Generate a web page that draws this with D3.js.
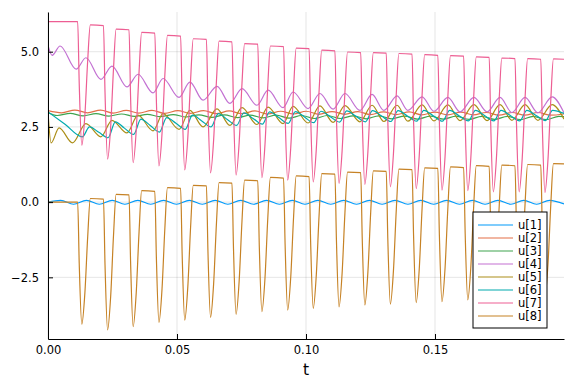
<!DOCTYPE html>
<html>
<head>
<meta charset="utf-8">
<script src="https://cdn.jsdelivr.net/npm/d3@7"></script>
<style>
  body { margin: 0; background: #fff; }
  text { font-family: "DejaVu Sans", sans-serif; fill: #000; }
</style>
</head>
<body>
<svg width="576" height="384"></svg>
<script>
// ---- data ----
var xTicks = [0, 0.05, 0.10, 0.15];
var yTicks = [-2.5, 0, 2.5, 5];
var seriesNames = ["u[1]", "u[2]", "u[3]", "u[4]", "u[5]", "u[6]", "u[7]", "u[8]"];
var colors = ["#009AFA", "#E36F47", "#3EA44E", "#C371D2", "#AC8E18", "#00AAAE", "#ED5E93", "#C68225"];

// u[1] small wiggle around zero  [t, value]
var u1 = [[0,0.00],[0.0049,0.06],[0.0099,-0.07],[0.0149,0.06],[0.0199,-0.07],[0.0249,0.06],[0.0298,-0.07],
  [0.0348,0.06],[0.0398,-0.07],[0.0448,0.06],[0.0498,-0.07],[0.0548,0.06],[0.0598,-0.07],[0.0648,0.06],
  [0.0697,-0.07],[0.0747,0.06],[0.0797,-0.07],[0.0847,0.06],[0.0897,-0.07],[0.0947,0.06],[0.0996,-0.07],
  [0.1046,0.06],[0.1096,-0.07],[0.1146,0.06],[0.1196,-0.07],[0.1246,0.06],[0.1295,-0.07],[0.1345,0.06],
  [0.1395,-0.07],[0.1445,0.06],[0.1495,-0.07],[0.1545,0.06],[0.1595,-0.07],[0.1645,0.06],[0.1694,-0.07],
  [0.1744,0.06],[0.1794,-0.07],[0.1844,0.06],[0.1894,-0.07],[0.1944,0.06],[0.2000,-0.06]];

var u2 = [[0,3.04],[0.0053,2.97],[0.0104,3.06],[0.0153,2.97],[0.0204,3.06],[0.0253,2.96],[0.0303,3.05],
  [0.0352,2.96],[0.0403,3.05],[0.0452,2.95],[0.0503,3.04],[0.0552,2.95],[0.0603,3.04],[0.0652,2.94],
  [0.0702,3.03],[0.0751,2.94],[0.0802,3.03],[0.0851,2.93],[0.0902,3.02],[0.0951,2.93],[0.1001,3.02],
  [0.1050,2.92],[0.1101,3.01],[0.1150,2.92],[0.1201,3.01],[0.1250,2.91],[0.1300,3.00],[0.1349,2.91],
  [0.1400,3.00],[0.1449,2.90],[0.1500,2.99],[0.1549,2.90],[0.1600,2.99],[0.1649,2.90],[0.1699,2.98],
  [0.1748,2.89],[0.1799,2.98],[0.1848,2.89],[0.1899,2.98],[0.1948,2.89],[0.2000,2.93]];

var u3 = [[0,2.98],[0.0036,2.88],[0.0086,2.95],[0.0136,2.87],[0.0186,2.94],[0.0236,2.86],[0.0285,2.93],
  [0.0335,2.85],[0.0385,2.92],[0.0435,2.84],[0.0485,2.91],[0.0535,2.83],[0.0585,2.90],[0.0635,2.82],
  [0.0684,2.90],[0.0734,2.81],[0.0784,2.89],[0.0834,2.80],[0.0884,2.89],[0.0934,2.79],[0.0983,2.88],
  [0.1033,2.78],[0.1083,2.88],[0.1133,2.78],[0.1183,2.87],[0.1233,2.77],[0.1282,2.87],[0.1332,2.77],
  [0.1382,2.86],[0.1432,2.76],[0.1482,2.86],[0.1532,2.76],[0.1582,2.86],[0.1632,2.75],[0.1681,2.85],
  [0.1731,2.75],[0.1781,2.85],[0.1831,2.74],[0.1881,2.85],[0.1931,2.74],[0.1980,2.85],[0.2000,2.84]];

var u4 = [[0,5.21],[0.0016,4.88],[0.0047,5.19],[0.0109,4.42],[0.0147,4.80],[0.0205,4.08],[0.0248,4.52],
  [0.0306,3.83],[0.0349,4.25],[0.0407,3.63],[0.0446,4.11],[0.0508,3.48],[0.0550,3.99],[0.0601,3.39],
  [0.0655,3.85],[0.0705,3.28],[0.0752,3.77],[0.0810,3.22],[0.0853,3.72],[0.0911,3.14],[0.0950,3.66],
  [0.1008,3.11],[0.1054,3.61],[0.1105,3.09],[0.1151,3.61],[0.1209,3.05],[0.1256,3.58],[0.1302,3.05],
  [0.1353,3.53],[0.1395,3.05],[0.1450,3.50],[0.1496,3.02],[0.1550,3.48],[0.1597,3.00],[0.1651,3.48],
  [0.1702,3.00],[0.1752,3.48],[0.1798,2.98],[0.1849,3.48],[0.1899,2.97],[0.1954,3.50],[0.2000,2.97]];

var u5 = [[0,3.00],[0.0012,1.97],[0.0043,2.47],[0.0095,1.97],[0.0147,2.61],[0.0205,2.17],[0.0248,2.72],
  [0.0306,2.30],[0.0349,2.89],[0.0407,2.37],[0.0446,2.94],[0.0508,2.42],[0.0550,3.05],[0.0601,2.50],
  [0.0655,3.10],[0.0705,2.55],[0.0752,3.14],[0.0810,2.58],[0.0853,3.16],[0.0911,2.61],[0.0950,3.18],
  [0.1008,2.63],[0.1054,3.20],[0.1105,2.65],[0.1151,3.21],[0.1209,2.67],[0.1256,3.22],[0.1302,2.68],
  [0.1353,3.22],[0.1395,2.69],[0.1450,3.23],[0.1496,2.70],[0.1550,3.23],[0.1597,2.71],[0.1651,3.24],
  [0.1702,2.71],[0.1752,3.24],[0.1798,2.72],[0.1849,3.24],[0.1899,2.72],[0.1954,3.24],[0.2000,2.76]];

var u6 = [[0,3.00],[0.0066,2.59],[0.0133,2.17],
  [0.0161,2.50],[0.0197,2.32],[0.0233,2.14],[0.0261,2.67],[0.0296,2.46],[0.0332,2.25],
  [0.0360,2.76],[0.0396,2.55],[0.0432,2.33],[0.0460,2.81],[0.0496,2.62],[0.0532,2.42],
  [0.0560,2.89],[0.0596,2.70],[0.0632,2.50],[0.0660,2.94],[0.0695,2.75],[0.0731,2.55],
  [0.0759,2.97],[0.0795,2.78],[0.0831,2.59],[0.0859,3.00],[0.0895,2.81],[0.0931,2.62],
  [0.0959,3.01],[0.0994,2.83],[0.1030,2.64],[0.1058,3.02],[0.1094,2.84],[0.1130,2.66],
  [0.1158,3.03],[0.1194,2.85],[0.1230,2.67],[0.1258,3.04],[0.1293,2.86],[0.1329,2.68],
  [0.1357,3.04],[0.1393,2.86],[0.1429,2.69],[0.1457,3.05],[0.1493,2.87],[0.1529,2.69],
  [0.1557,3.05],[0.1593,2.87],[0.1629,2.70],[0.1657,3.05],[0.1692,2.88],[0.1728,2.70],
  [0.1756,3.05],[0.1792,2.88],[0.1828,2.70],[0.1856,3.05],[0.1892,2.88],[0.1928,2.71],
  [0.1956,3.05],[0.2000,2.95]];

// u[7] and u[8] pulse in step, so they share one time list
var tPulse = [0,
  0.0115,0.0121,0.0131,0.0143,0.0154,0.0164, 0.0215,0.0221,0.0231,0.0243,0.0254,0.0264,
  0.0314,0.0320,0.0330,0.0342,0.0353,0.0363, 0.0414,0.0420,0.0430,0.0442,0.0453,0.0463,
  0.0514,0.0520,0.0530,0.0542,0.0553,0.0563, 0.0614,0.0620,0.0630,0.0642,0.0653,0.0663,
  0.0713,0.0719,0.0729,0.0741,0.0752,0.0762, 0.0813,0.0819,0.0829,0.0841,0.0852,0.0862,
  0.0913,0.0919,0.0929,0.0941,0.0952,0.0962, 0.1012,0.1018,0.1028,0.1040,0.1051,0.1061,
  0.1112,0.1118,0.1128,0.1140,0.1151,0.1161, 0.1212,0.1218,0.1228,0.1240,0.1251,0.1261,
  0.1311,0.1317,0.1327,0.1339,0.1350,0.1360, 0.1411,0.1417,0.1427,0.1439,0.1450,0.1460,
  0.1511,0.1517,0.1527,0.1539,0.1550,0.1560, 0.1611,0.1617,0.1627,0.1639,0.1650,0.1660,
  0.1710,0.1716,0.1726,0.1738,0.1749,0.1759, 0.1810,0.1816,0.1826,0.1838,0.1849,0.1859,
  0.1910,0.1916,0.1926,0.1938,0.1949,0.1959,
  0.2000];

var u7 = [6.00,
  6.00,3.95,1.89,2.90,4.73,5.89, 5.87,3.65,1.43,2.52,4.45,5.75,
  5.73,3.52,1.31,2.39,4.34,5.64, 5.62,3.41,1.20,2.29,4.24,5.54,
  5.52,3.30,1.07,2.16,4.12,5.43, 5.41,3.19,0.97,2.07,4.04,5.35,
  5.33,3.12,0.90,1.99,3.96,5.27, 5.25,3.03,0.81,1.91,3.88,5.19,
  5.17,2.95,0.73,1.83,3.80,5.12, 5.10,2.89,0.67,1.77,3.74,5.05,
  5.03,2.83,0.62,1.71,3.68,4.99, 4.97,2.78,0.59,1.69,3.66,4.97,
  4.95,2.73,0.51,1.62,3.61,4.94, 4.92,2.69,0.45,1.56,3.57,4.90,
  4.88,2.64,0.40,1.52,3.53,4.87, 4.85,2.62,0.38,1.49,3.50,4.83,
  4.81,2.58,0.34,1.45,3.46,4.79, 4.77,2.56,0.34,1.45,3.44,4.77,
  4.75,2.54,0.32,1.43,3.43,4.76,
  4.75];

var u8 = [0.00,
  0.00,-2.03,-4.06,-3.01,-1.13,0.12, 0.10,-2.08,-4.25,-3.12,-1.09,0.26,
  0.24,-1.95,-4.14,-3.01,-0.98,0.38, 0.36,-1.82,-4.00,-2.88,-0.86,0.48,
  0.46,-1.73,-3.92,-2.80,-0.78,0.56, 0.54,-1.65,-3.83,-2.71,-0.69,0.65,
  0.63,-1.55,-3.73,-2.61,-0.61,0.73, 0.71,-1.47,-3.64,-2.53,-0.52,0.82,
  0.80,-1.40,-3.59,-2.47,-0.47,0.87, 0.85,-1.34,-3.53,-2.41,-0.39,0.95,
  0.93,-1.28,-3.48,-2.36,-0.34,1.00, 0.98,-1.22,-3.42,-2.31,-0.30,1.04,
  1.02,-1.19,-3.39,-2.27,-0.25,1.10, 1.08,-1.13,-3.34,-2.22,-0.20,1.14,
  1.12,-1.10,-3.31,-2.19,-0.17,1.17, 1.15,-1.05,-3.25,-2.14,-0.13,1.21,
  1.19,-1.02,-3.22,-2.11,-0.11,1.23, 1.21,-0.99,-3.19,-2.08,-0.08,1.25,
  1.23,-0.97,-3.16,-2.05,-0.05,1.28,
  1.27];

// ---- chart ----
var svg = d3.select("svg"),
    margin = {top: 12, right: 12, bottom: 45, left: 48},
    width = +svg.attr("width") - margin.left - margin.right,
    height = +svg.attr("height") - margin.top - margin.bottom,
    g = svg.append("g").attr("transform", "translate(" + margin.left + "," + margin.top + ")");

var x = d3.scaleLinear().domain([0, 0.2]).range([0, width]),
    y = d3.scaleLinear().domain([-4.55, 6.32]).range([height, 0]);

var series = [u1, u2, u3, u4, u5, u6, d3.zip(tPulse, u7), d3.zip(tPulse, u8)];

var line = d3.line()
    .curve(d3.curveMonotoneX)
    .x(function(d) { return x(d[0]); })
    .y(function(d) { return y(d[1]); });

// grid
g.append("g").selectAll("line")
  .data(xTicks).enter().append("line")
    .attr("x1", function(d) { return x(d); }).attr("x2", function(d) { return x(d); })
    .attr("y1", 0).attr("y2", height)
    .attr("stroke", "#000").attr("stroke-opacity", 0.1);
g.append("g").selectAll("line")
  .data(yTicks).enter().append("line")
    .attr("y1", function(d) { return y(d); }).attr("y2", function(d) { return y(d); })
    .attr("x1", 0).attr("x2", width)
    .attr("stroke", "#000").attr("stroke-opacity", 0.1);

svg.append("defs").append("clipPath").attr("id", "clip")
  .append("rect").attr("width", width).attr("height", height);

g.append("g").attr("clip-path", "url(#clip)")
  .selectAll("path")
  .data(series).enter().append("path")
    .attr("fill", "none")
    .attr("stroke", function(d, i) { return colors[i]; })
    .attr("stroke-width", 1.2)
    .attr("d", line);

// axes
var fmtY = function(d) { return d3.format(".1f")(d).replace("-", "\u2212"); };

var xAxis = g.append("g")
    .attr("transform", "translate(0," + height + ")")
    .call(d3.axisBottom(x).tickValues(xTicks).tickFormat(d3.format(".2f"))
      .tickSizeInner(-5).tickSizeOuter(0).tickPadding(7));

var yAxis = g.append("g")
    .call(d3.axisLeft(y).tickValues(yTicks).tickFormat(fmtY)
      .tickSizeInner(-5).tickSizeOuter(0).tickPadding(9));

[xAxis, yAxis].forEach(function(a) {
  a.select(".domain").attr("stroke", "#000").attr("stroke-width", 1);
  a.selectAll(".tick line").attr("stroke", "#000");
  a.selectAll(".tick text").style("font-size", "11.5px").attr("fill", "#000");
});

g.append("text")
    .attr("x", width / 2)
    .attr("y", height + 36)
    .attr("text-anchor", "middle")
    .style("font-size", "15.5px")
    .text("t");

// legend
var legend = svg.append("g").attr("transform", "translate(473,212)");
legend.append("rect")
    .attr("width", 74).attr("height", 116)
    .attr("fill", "#fff").attr("stroke", "#000").attr("stroke-width", 1);

var item = legend.selectAll(".item")
  .data(seriesNames).enter().append("g")
    .attr("class", "item")
    .attr("transform", function(d, i) { return "translate(0," + (13 + i * 13) + ")"; });

item.append("line")
    .attr("x1", 5).attr("x2", 40)
    .attr("stroke", function(d, i) { return colors[i]; })
    .attr("stroke-width", 1.2);

item.append("text")
    .attr("x", 45)
    .attr("dy", "0.35em")
    .style("font-size", "11.5px")
    .text(function(d) { return d; });
</script>
</body>
</html>
